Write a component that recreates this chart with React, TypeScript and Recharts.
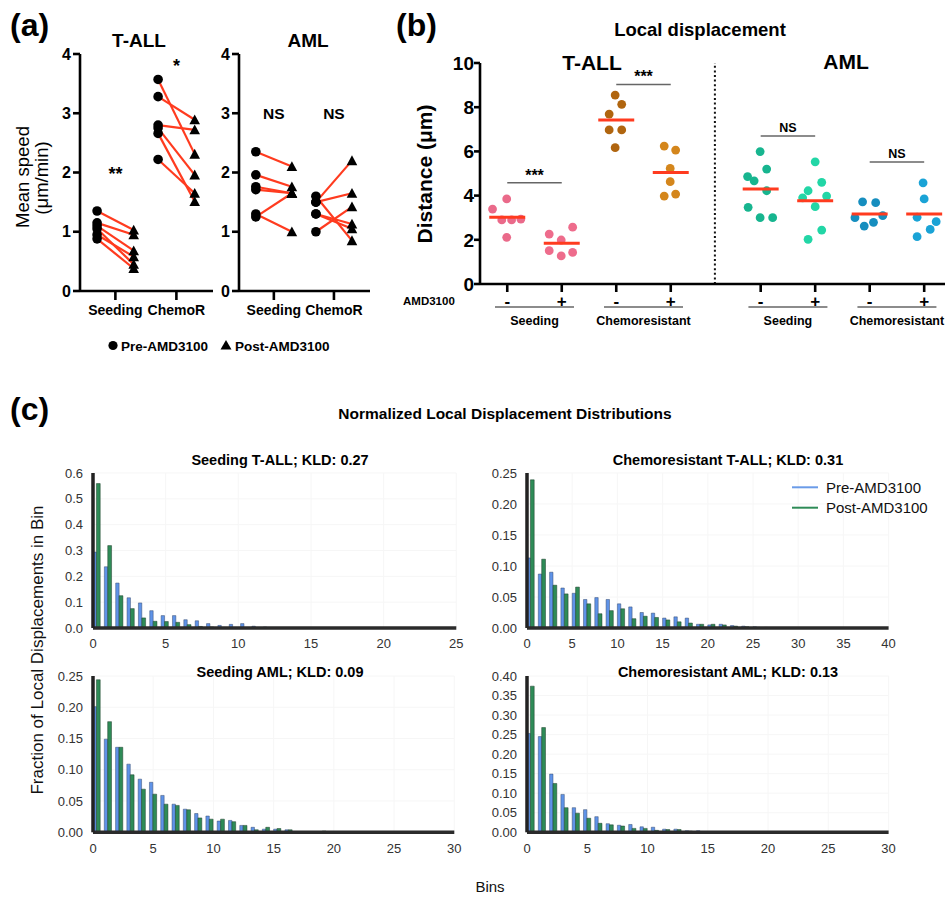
import React from 'react';
import {
  ScatterChart,
  Scatter,
  XAxis,
  YAxis,
  ReferenceLine,
  ReferenceDot,
  BarChart,
  Bar,
  CartesianGrid,
} from 'recharts';

const FONT = '"Liberation Sans", Arial, Helvetica, sans-serif';
const RED = '#ff3b1f';

// ---------------- (a) Mean speed ----------------
const speedCategoryLabels = ['Seeding', 'ChemoR'];
const speedCategoryPos = [1, 2];
const speedYTicks = [0, 1, 2, 3, 4];
const tallSeedPre = [1.35, 1.15, 1.1, 1.05, 0.95, 0.88];
const tallSeedPost = [1.03, 0.95, 0.68, 0.45, 0.58, 0.38];
const tallChemoPre = [3.57, 3.28, 2.8, 2.75, 2.66, 2.22];
const tallChemoPost = [2.31, 2.89, 2.72, 1.96, 1.51, 1.65];
const amlSeedPre = [2.35, 1.96, 1.76, 1.71, 1.3, 1.25];
const amlSeedPost = [2.1, 1.76, 1.65, 1.65, 1.0, 1.65];
const amlChemoPre = [1.5, 1.5, 1.0, 1.3, 1.3, 1.6];
const amlChemoPost = [2.2, 1.65, 1.42, 1.05, 1.13, 0.85];
const tallMarks = [
  { x: 1, y: 1.98, text: '**', size: 18 },
  { x: 2, y: 3.81, text: '*', size: 18 },
];
const amlMarks = [
  { x: 1, y: 2.99, text: 'NS', size: 15.5 },
  { x: 2, y: 2.99, text: 'NS', size: 15.5 },
];
const PAIR_OFFSET = 0.3;

// ---------------- (b) Local displacement ----------------
const dispTickPositions = [0.5, 1.5, 2.5, 3.5, 5.15, 6.15, 7.15, 8.15];
const dispTickLabels = ['-', '+', '-', '+', '-', '+', '-', '+'];
const dispGroupCenters = [1, 3, 5.65, 7.65];
const dispGroupLabels = ['Seeding', 'Chemoresistant', 'Seeding', 'Chemoresistant'];
const dispYTicks = [0, 2, 4, 6, 8, 10];

const tallSeedNeg = [3.39, 3.85, 2.9, 2.9, 2.94, 2.11];
const tallSeedNegJit = [-0.27, -0.01, -0.1, 0.08, 0.25, -0.01];
const tallSeedPos = [2.26, 1.99, 2.57, 1.51, 1.27, 1.43];
const tallSeedPosJit = [-0.23, -0.01, 0.2, -0.23, -0.01, 0.2];
const tallChemoNeg = [8.55, 8.13, 7.69, 6.97, 6.97, 6.17];
const tallChemoNegJit = [-0.02, 0.1, -0.13, -0.13, 0.1, -0.02];
const tallChemoPos = [6.24, 6.06, 5.23, 4.63, 3.98, 4.07];
const tallChemoPosJit = [-0.12, 0.09, -0.01, -0.01, -0.12, 0.09];
const amlSeedNeg = [5.99, 5.2, 4.86, 4.67, 4.22, 3.47, 3.0, 3.0];
const amlSeedNegJit = [-0.01, 0.11, -0.24, -0.12, 0.11, -0.23, -0.01, 0.22];
const amlSeedPos = [5.53, 4.22, 4.6, 3.9, 3.98, 3.5, 2.44, 2.02];
const amlSeedPosJit = [0, -0.13, 0.12, -0.23, 0.21, 0, 0.12, -0.13];
const amlChemoNeg = [3.72, 3.68, 3.0, 3.09, 2.62, 2.79];
const amlChemoNegJit = [-0.13, 0.11, -0.27, 0.24, -0.1, 0.07];
const amlChemoPos = [4.58, 3.85, 3.02, 2.82, 2.47, 2.14];
const amlChemoPosJit = [-0.02, 0, -0.13, 0.22, 0.11, -0.13];
const dispMeans = [3.02, 1.84, 7.42, 5.04, 4.3, 3.77, 3.17, 3.17];
const dispColors = ['#ea6a8a', '#ee6c8c', '#b0650f', '#d4861c', '#17b58f', '#22d6a6', '#168ebf', '#1aa3d6'];
const dispSeries = [
  [tallSeedNeg, tallSeedNegJit],
  [tallSeedPos, tallSeedPosJit],
  [tallChemoNeg, tallChemoNegJit],
  [tallChemoPos, tallChemoPosJit],
  [amlSeedNeg, amlSeedNegJit],
  [amlSeedPos, amlSeedPosJit],
  [amlChemoNeg, amlChemoNegJit],
  [amlChemoPos, amlChemoPosJit],
];
const dispSignif = [
  { from: 0.5, to: 1.5, y: 4.58, text: '***' },
  { from: 2.5, to: 3.5, y: 9.03, text: '***' },
  { from: 5.15, to: 6.15, y: 6.7, text: 'NS' },
  { from: 7.15, to: 8.15, y: 5.52, text: 'NS' },
];
const DIVIDER_X = 4.31;

// ---------------- (c) Histograms ----------------
const histBins = Array.from({ length: 32 }, (_, i) => i);
const seedTallPre = [0.294, 0.237, 0.174, 0.117, 0.097, 0.067, 0.048, 0.048, 0.032, 0.028, 0.017, 0.01, 0.014, 0.017, 0.007, 0.004, 0.002];
const seedTallPost = [0.559, 0.319, 0.125, 0.075, 0.039, 0.026, 0.025, 0.022, 0.013, 0.006, 0.004, 0.002, 0.001, 0.001, 0, 0.001];
const chemoTallPre = [0.113, 0.087, 0.09, 0.0645, 0.056, 0.046, 0.049, 0.046, 0.039, 0.034, 0.025, 0.024, 0.016, 0.018, 0.016, 0.006, 0.005, 0.006, 0.004, 0.003, 0.002, 0.001];
const chemoTallPost = [0.239, 0.111, 0.069, 0.055, 0.066, 0.039, 0.023, 0.028, 0.031, 0.015, 0.019, 0.017, 0.013, 0.01, 0.008, 0.006, 0.006, 0.005, 0.003, 0.002, 0.001];
const seedAmlPre = [0.201, 0.149, 0.136, 0.109, 0.085, 0.08, 0.059, 0.045, 0.037, 0.03, 0.026, 0.018, 0.019, 0.011, 0.008, 0.005, 0.005, 0.004, 0.001, 0.001, 0.001, 0.001];
const seedAmlPost = [0.244, 0.177, 0.136, 0.092, 0.069, 0.061, 0.045, 0.043, 0.036, 0.023, 0.021, 0.021, 0.017, 0.011, 0.004, 0.008, 0.006, 0.004, 0.001, 0.001, 0.002, 0.001];
const chemoAmlPre = [0.253, 0.245, 0.149, 0.097, 0.063, 0.058, 0.04, 0.022, 0.018, 0.02, 0.014, 0.013, 0.008, 0.008, 0.004, 0.004, 0.001, 0.001, 0.002];
const chemoAmlPost = [0.374, 0.268, 0.125, 0.063, 0.049, 0.036, 0.023, 0.019, 0.016, 0.01, 0.01, 0.005, 0.007, 0.007, 0.003, 0.001, 0.001, 0.001];
const ticks25 = [0, 5, 10, 15, 20, 25];
const ticks30 = [0, 5, 10, 15, 20, 25, 30];
const ticks40 = [0, 5, 10, 15, 20, 25, 30, 35, 40];
const yTicks06 = [0, 0.1, 0.2, 0.3, 0.4, 0.5, 0.6];
const yTicks025 = [0, 0.05, 0.1, 0.15, 0.2, 0.25];
const yTicks040 = [0, 0.05, 0.1, 0.15, 0.2, 0.25, 0.3, 0.35, 0.4];
const histTitles = [
  'Seeding T-ALL; KLD: 0.27',
  'Chemoresistant T-ALL; KLD: 0.31',
  'Seeding AML; KLD: 0.09',
  'Chemoresistant AML; KLD: 0.13',
];
const legendLabels = ['Pre-AMD3100', 'Post-AMD3100'];
const BLUE = '#5f93e8';
const GREEN = '#2e8b57';

// ---------------- shapes ----------------
const CircleMarker = (props: any) => <circle cx={props.cx} cy={props.cy} r={4.8} fill="#000" />;
const TriangleMarker = (props: any) => {
  const { cx, cy } = props;
  const s = 5.3;
  return <path d={`M${cx},${cy - s} L${cx + s},${cy + s * 0.85} L${cx - s},${cy + s * 0.85} Z`} fill="#000" />;
};
const NoMarker = () => <g />;
const makeDot = (color: string) => (props: any) => <circle cx={props.cx} cy={props.cy} r={4.4} fill={color} />;

function SpeedPanel(p: any) {
  const { left, width, margin, yw, seedPre, seedPost, chemoPre, chemoPost, marks } = p;
  const [c1, c2] = speedCategoryPos;
  const preData = [
    ...seedPre.map((y: number) => ({ x: c1 - PAIR_OFFSET, y })),
    ...chemoPre.map((y: number) => ({ x: c2 - PAIR_OFFSET, y })),
  ];
  const postData = [
    ...seedPost.map((y: number) => ({ x: c1 + PAIR_OFFSET, y })),
    ...chemoPost.map((y: number) => ({ x: c2 + PAIR_OFFSET, y })),
  ];
  const pairs = [
    ...seedPre.map((y: number, i: number) => [
      { x: c1 - PAIR_OFFSET, y },
      { x: c1 + PAIR_OFFSET, y: seedPost[i] },
    ]),
    ...chemoPre.map((y: number, i: number) => [
      { x: c2 - PAIR_OFFSET, y },
      { x: c2 + PAIR_OFFSET, y: chemoPost[i] },
    ]),
  ];
  return (
    <div style={{ position: 'absolute', left, top: 0 }}>
      <ScatterChart width={width} height={330} margin={margin}>
        <XAxis
          type="number"
          dataKey="x"
          domain={[0.42, 2.6]}
          ticks={speedCategoryPos}
          interval={0}
          allowDataOverflow
          tickFormatter={(v: any, i: number) => speedCategoryLabels[i]}
          height={30}
          tickSize={9}
          tickMargin={5}
          axisLine={{ stroke: '#000', strokeWidth: 2.6 }}
          tickLine={{ stroke: '#000', strokeWidth: 2.6 }}
          tick={{ fill: '#000', fontSize: 14, fontWeight: 700, fontFamily: FONT }}
        />
        <YAxis
          type="number"
          dataKey="y"
          domain={[0, 4]}
          ticks={speedYTicks}
          interval={0}
          allowDataOverflow
          width={yw}
          tickSize={7}
          tickMargin={2}
          axisLine={{ stroke: '#000', strokeWidth: 2.6 }}
          tickLine={{ stroke: '#000', strokeWidth: 2.6 }}
          tick={{ fill: '#000', fontSize: 16, fontWeight: 700, fontFamily: FONT }}
        />
        {pairs.map((pd: any, i: number) => (
          <Scatter key={`pair${i}`} data={pd} line={{ stroke: RED, strokeWidth: 2.2 }} shape={NoMarker} isAnimationActive={false} />
        ))}
        <Scatter data={preData} shape={CircleMarker} isAnimationActive={false} />
        <Scatter data={postData} shape={TriangleMarker} isAnimationActive={false} />
        {marks.map((m: any, i: number) => (
          <ReferenceDot
            key={`mk${i}`}
            x={m.x}
            y={m.y}
            r={0}
            fill="none"
            stroke="none"
            label={{ value: m.text, position: 'center', fill: '#000', fontSize: m.size, fontWeight: 700, fontFamily: FONT }}
          />
        ))}
      </ScatterChart>
    </div>
  );
}

const GroupTick = (props: any) => {
  const { x, y, index } = props;
  return (
    <g>
      <line x1={x - 39.5} x2={x + 39.5} y1={y - 1} y2={y - 1} stroke="#666" strokeWidth={1.5} />
      <text x={x} y={y + 17} textAnchor="middle" fontSize={12.5} fontWeight={700} fontFamily={FONT} fill="#000">
        {dispGroupLabels[index]}
      </text>
    </g>
  );
};

function DisplacementPanel() {
  const xDomain = [0, 8.532];
  return (
    <div style={{ position: 'absolute', left: 380, top: 0 }}>
      <ScatterChart width={565} height={344} margin={{ top: 63, right: 0, bottom: 0, left: 40 }}>
        <XAxis
          type="number"
          dataKey="x"
          domain={xDomain}
          allowDataOverflow
          ticks={dispTickPositions}
          interval={0}
          tickFormatter={(v: any, i: number) => dispTickLabels[i]}
          height={24}
          tickSize={8}
          tickMargin={3}
          axisLine={{ stroke: '#000', strokeWidth: 2.6 }}
          tickLine={{ stroke: '#000', strokeWidth: 2.6 }}
          tick={{ fill: '#000', fontSize: 17, fontWeight: 700, fontFamily: FONT }}
        />
        <XAxis
          xAxisId="grp"
          type="number"
          dataKey="x"
          domain={xDomain}
          allowDataOverflow
          ticks={dispGroupCenters}
          interval={0}
          height={36}
          axisLine={false}
          tickLine={false}
          tickSize={0}
          tickMargin={0}
          tick={<GroupTick />}
        />
        <YAxis
          type="number"
          dataKey="y"
          domain={[0, 10]}
          ticks={dispYTicks}
          interval={0}
          allowDataOverflow
          width={60}
          tickSize={6}
          tickMargin={0}
          axisLine={{ stroke: '#000', strokeWidth: 2.6 }}
          tickLine={{ stroke: '#000', strokeWidth: 2.6 }}
          tick={{ fill: '#000', fontSize: 19, fontWeight: 700, fontFamily: FONT }}
        />
        <Scatter
          xAxisId="grp"
          data={dispGroupCenters.map((x) => ({ x, y: 0 }))}
          shape={NoMarker}
          isAnimationActive={false}
        />
        <ReferenceLine x={DIVIDER_X} stroke="#111" strokeWidth={2} strokeDasharray="2 2.6" />
        {dispSignif.map((s, i) => (
          <ReferenceLine
            key={`sig${i}`}
            segment={[
              { x: s.from, y: s.y },
              { x: s.to, y: s.y },
            ]}
            stroke="#666"
            strokeWidth={1.5}
            label={{
              value: s.text,
              position: 'top',
              offset: s.text === 'NS' ? 4 : 2,
              fill: '#000',
              fontSize: s.text === 'NS' ? 12.5 : 16,
              fontWeight: 700,
              fontFamily: FONT,
            }}
          />
        ))}
        {dispSeries.map(([vals, jit], gi) => (
          <Scatter
            key={`dots${gi}`}
            data={(vals as number[]).map((v, i) => ({ x: dispTickPositions[gi] + (jit as number[])[i], y: v }))}
            shape={makeDot(dispColors[gi])}
            isAnimationActive={false}
          />
        ))}
        {dispMeans.map((m, gi) => (
          <Scatter
            key={`mean${gi}`}
            data={[
              { x: dispTickPositions[gi] - 0.33, y: m },
              { x: dispTickPositions[gi] + 0.33, y: m },
            ]}
            line={{ stroke: RED, strokeWidth: 3 }}
            shape={NoMarker}
            isAnimationActive={false}
          />
        ))}
      </ScatterChart>
    </div>
  );
}

function Histogram(p: any) {
  const { rect, pre, post, xMax, xTicks, yMax, yTicks, digits } = p;
  const m = { top: 20, right: 15, bottom: 5, left: 10 };
  const yw = 50;
  const xh = 30;
  const data = histBins.map((b) => ({ bin: b, pre: pre[b] ?? 0, post: post[b] ?? 0, gap: 0, x: 0 }));
  return (
    <div style={{ position: 'absolute', left: rect.left - m.left - yw, top: rect.top - m.top }}>
      <BarChart
        width={rect.width + m.left + yw + m.right}
        height={rect.height + m.top + m.bottom + xh}
        data={data}
        margin={m}
        barGap={0}
        barCategoryGap={0}
      >
        <CartesianGrid xAxisId="num" stroke="#f6f6f6" strokeWidth={1} />
        <XAxis xAxisId="cat" dataKey="bin" type="category" orientation="top" hide />
        <XAxis
          xAxisId="num"
          type="number"
          dataKey="x"
          domain={[0, xMax]}
          ticks={xTicks}
          allowDataOverflow
          interval={0}
          height={xh}
          tickLine={false}
          tickSize={6}
          tickMargin={5}
          axisLine={{ stroke: '#2b2b2b', strokeWidth: 3.5 }}
          tick={{ fill: '#333', fontSize: 13, fontFamily: FONT }}
        />
        <YAxis
          type="number"
          domain={[0, yMax]}
          ticks={yTicks}
          allowDataOverflow
          interval={0}
          width={yw}
          tickLine={false}
          tickSize={6}
          tickMargin={4}
          axisLine={{ stroke: '#222', strokeWidth: 3.5 }}
          tick={{ fill: '#333', fontSize: 13, fontFamily: FONT }}
          tickFormatter={(v: number) => v.toFixed(digits)}
        />
        <Bar xAxisId="cat" dataKey="pre" barSize={3.4} fill={BLUE} stroke="#34496e" strokeWidth={0.5} isAnimationActive={false} />
        <Bar xAxisId="cat" dataKey="post" barSize={3.8} fill={GREEN} stroke="#1c3b29" strokeWidth={0.5} isAnimationActive={false} />
        <Bar xAxisId="cat" dataKey="gap" barSize={4} fill="none" isAnimationActive={false} />
      </BarChart>
    </div>
  );
}

function Overlay() {
  const bold = { fontFamily: FONT, fontWeight: 700, fill: '#000' } as any;
  const reg = { fontFamily: FONT, fill: '#111' } as any;
  return (
    <svg width={945} height={897} style={{ position: 'absolute', left: 0, top: 0, pointerEvents: 'none' }}>
      {/* panel labels */}
      <text x={10} y={35.5} fontSize={32} {...bold}>(a)</text>
      <text x={396} y={35.5} fontSize={32} {...bold}>(b)</text>
      <text x={10} y={420} fontSize={32} {...bold}>(c)</text>

      {/* (a) */}
      <text x={139} y={47} fontSize={19} textAnchor="middle" {...bold}>T-ALL</text>
      <text x={308} y={47} fontSize={19} textAnchor="middle" {...bold}>AML</text>
      <text transform="translate(29,177) rotate(-90)" fontSize={18.5} textAnchor="middle" {...reg} fill="#000">Mean speed</text>
      <text transform="translate(48,178) rotate(-90)" fontSize={18.5} textAnchor="middle" {...reg} fill="#000">(μm/min)</text>
      <circle cx={113} cy={345.5} r={4.6} fill="#000" />
      <text x={121} y={350.5} fontSize={13.5} {...bold}>{legendLabels[0]}</text>
      <path d="M226,340 L231.5,349.5 L220.5,349.5 Z" fill="#000" />
      <text x={235} y={350.5} fontSize={13.5} {...bold}>{legendLabels[1]}</text>

      {/* (b) */}
      <text x={700} y={36} fontSize={18.5} textAnchor="middle" {...bold}>Local displacement</text>
      <text x={592} y={70} fontSize={21} textAnchor="middle" {...bold}>T-ALL</text>
      <text x={846} y={69} fontSize={21} textAnchor="middle" {...bold}>AML</text>
      <text transform="translate(432,174) rotate(-90)" fontSize={21} textAnchor="middle" {...bold}>Distance (μm)</text>
      <text x={403} y={305} fontSize={11.5} {...bold}>AMD3100</text>

      {/* (c) */}
      <text x={505} y={419} fontSize={15.5} textAnchor="middle" {...bold}>Normalized Local Displacement Distributions</text>
      <text x={280} y={464.5} fontSize={14.5} textAnchor="middle" {...bold}>{histTitles[0]}</text>
      <text x={728} y={464.5} fontSize={14.5} textAnchor="middle" {...bold}>{histTitles[1]}</text>
      <text x={280} y={677} fontSize={14.5} textAnchor="middle" {...bold}>{histTitles[2]}</text>
      <text x={728} y={677} fontSize={14.5} textAnchor="middle" {...bold}>{histTitles[3]}</text>
      <line x1={792} x2={818} y1={487.3} y2={487.3} stroke="#6a9be8" strokeWidth={2} />
      <line x1={792} x2={818} y1={507.7} y2={507.7} stroke={GREEN} strokeWidth={2} />
      <text x={826} y={492.5} fontSize={15} {...reg}>{legendLabels[0]}</text>
      <text x={826} y={513} fontSize={15} {...reg}>{legendLabels[1]}</text>
      <text transform="translate(43,650) rotate(-90)" fontSize={17} textAnchor="middle" {...reg}>Fraction of Local Displacements in Bin</text>
      <text x={490} y={892} fontSize={15} textAnchor="middle" {...reg}>Bins</text>
    </svg>
  );
}

export default function App() {
  return (
    <div style={{ position: 'absolute', left: 0, top: 0, width: 945, height: 897, overflow: 'hidden', background: '#fff' }}>
      <SpeedPanel
        left={0}
        width={220}
        margin={{ top: 54, right: 7, bottom: 9, left: 20 }}
        yw={60}
        seedPre={tallSeedPre}
        seedPost={tallSeedPost}
        chemoPre={tallChemoPre}
        chemoPost={tallChemoPost}
        marks={tallMarks}
      />
      <SpeedPanel
        left={190}
        width={185}
        margin={{ top: 54, right: 5, bottom: 9, left: 9 }}
        yw={40}
        seedPre={amlSeedPre}
        seedPost={amlSeedPost}
        chemoPre={amlChemoPre}
        chemoPost={amlChemoPost}
        marks={amlMarks}
      />
      <DisplacementPanel />
      <Histogram rect={{ left: 92.7, top: 473.3, width: 363.3, height: 155 }} pre={seedTallPre} post={seedTallPost} xMax={25} xTicks={ticks25} yMax={0.6} yTicks={yTicks06} digits={1} />
      <Histogram rect={{ left: 526.7, top: 473.3, width: 361.6, height: 155 }} pre={chemoTallPre} post={chemoTallPost} xMax={40} xTicks={ticks40} yMax={0.25} yTicks={yTicks025} digits={2} />
      <Histogram rect={{ left: 92.7, top: 676, width: 361.3, height: 156.3 }} pre={seedAmlPre} post={seedAmlPost} xMax={30} xTicks={ticks30} yMax={0.25} yTicks={yTicks025} digits={2} />
      <Histogram rect={{ left: 526.7, top: 676, width: 361.6, height: 156.3 }} pre={chemoAmlPre} post={chemoAmlPost} xMax={30} xTicks={ticks30} yMax={0.4} yTicks={yTicks040} digits={2} />
      <Overlay />
    </div>
  );
}
